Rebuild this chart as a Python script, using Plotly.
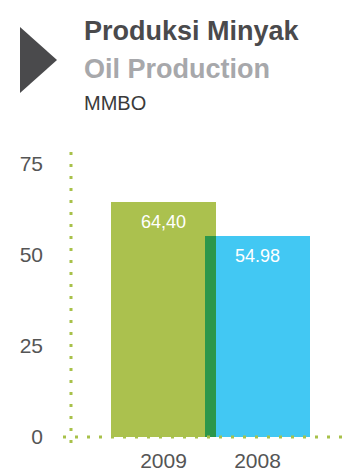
import plotly.graph_objects as go

# Oil production (MMBO) by year
years = ["2009", "2008"]
production = [64.40, 54.98]
value_labels = ["64,40", "54.98"]
bar_colors = ["#abc14e", "#42c8f3"]
overlap_color = "#2b974b"
y_ticks = [0, 25, 50, 75]

W, H = 348, 471
M_L, M_R, M_T, M_B = 71, 0, 144, 34
PW, PH = W - M_L - M_R, H - M_T - M_B
FONT = "Liberation Sans, Arial, sans-serif"
DOT_GREEN = "#a8c14a"

BAR_W = 1.117  # bars wider than their spacing, so neighbours overlap


def px(x):
    return (x - M_L) / PW


def py(y):
    return (H - M_B - y) / PH


positions = list(range(len(years)))

fig = go.Figure()
for pos, val, col in zip(positions, production, bar_colors):
    fig.add_trace(go.Bar(x=[pos], y=[val], width=BAR_W, marker=dict(color=col, line=dict(width=0)),
                         hoverinfo="skip", showlegend=False))

# darker strip where adjacent bars overlap
for a, b in zip(range(len(years) - 1), range(1, len(years))):
    fig.add_trace(go.Bar(x=[(positions[a] + positions[b]) / 2], y=[min(production[a], production[b])],
                         width=BAR_W - (positions[b] - positions[a]),
                         marker=dict(color=overlap_color, line=dict(width=0)),
                         hoverinfo="skip", showlegend=False))

annotations = []
for pos, val, lab in zip(positions, production, value_labels):
    annotations.append(dict(x=pos, y=val, xref="x", yref="y", text=lab, showarrow=False,
                            yanchor="top", yshift=-8,
                            font=dict(family=FONT, size=18, color="white")))

# heading block
annotations += [
    dict(x=px(82), y=py(31), xref="paper", yref="paper", text="<b>Produksi Minyak</b>",
         showarrow=False, xanchor="left", yanchor="middle",
         font=dict(family=FONT, size=27, color="#4a4a4c")),
    dict(x=px(82), y=py(69), xref="paper", yref="paper", text="<b>Oil Production</b>",
         showarrow=False, xanchor="left", yanchor="middle",
         font=dict(family=FONT, size=27, color="#a7a8ab")),
    dict(x=px(82), y=py(103), xref="paper", yref="paper", text="MMBO",
         showarrow=False, xanchor="left", yanchor="middle",
         font=dict(family=FONT, size=20, color="#3a3a3a")),
]

tri = "M {x0},{y0} L {x1},{y1} L {x0},{y2} Z".format(
    x0=px(20), y0=py(27), x1=px(57), y1=py(60), y2=py(93))

shapes = [
    dict(type="path", path=tri, xref="paper", yref="paper",
         fillcolor="#4a4a4c", line=dict(width=0)),
    # dotted axis lines crossing at the origin
    dict(type="line", xref="paper", yref="paper", x0=0, x1=0, y0=-6 / PH, y1=1,
         line=dict(color=DOT_GREEN, width=3, dash="3px,9px")),
    dict(type="line", xref="paper", yref="paper", x0=-8 / PW, x1=1, y0=0, y1=0,
         line=dict(color=DOT_GREEN, width=3, dash="3px,9px")),
]

px_per_unit = 94
x0 = -(163.5 - M_L) / px_per_unit
fig.update_layout(
    width=W, height=H,
    margin=dict(l=M_L, r=M_R, t=M_T, b=M_B, pad=0),
    paper_bgcolor="white", plot_bgcolor="white",
    barmode="overlay", bargap=0,
    xaxis=dict(range=[x0, x0 + PW / px_per_unit], tickvals=positions, ticktext=years,
               showgrid=False, zeroline=False, showline=False, ticks="",
               ticklabelstandoff=9,
               tickfont=dict(family=FONT, size=21, color="#555555"), fixedrange=True),
    yaxis=dict(range=[0, PH / 3.65], tickvals=y_ticks, showgrid=False, zeroline=False,
               showline=False, ticks="", ticklabelstandoff=27,
               tickfont=dict(family=FONT, size=21, color="#555555"), fixedrange=True),
    annotations=annotations,
    shapes=shapes,
    showlegend=False,
)

fig.write_html("out.html", config={"displayModeBar": False})
